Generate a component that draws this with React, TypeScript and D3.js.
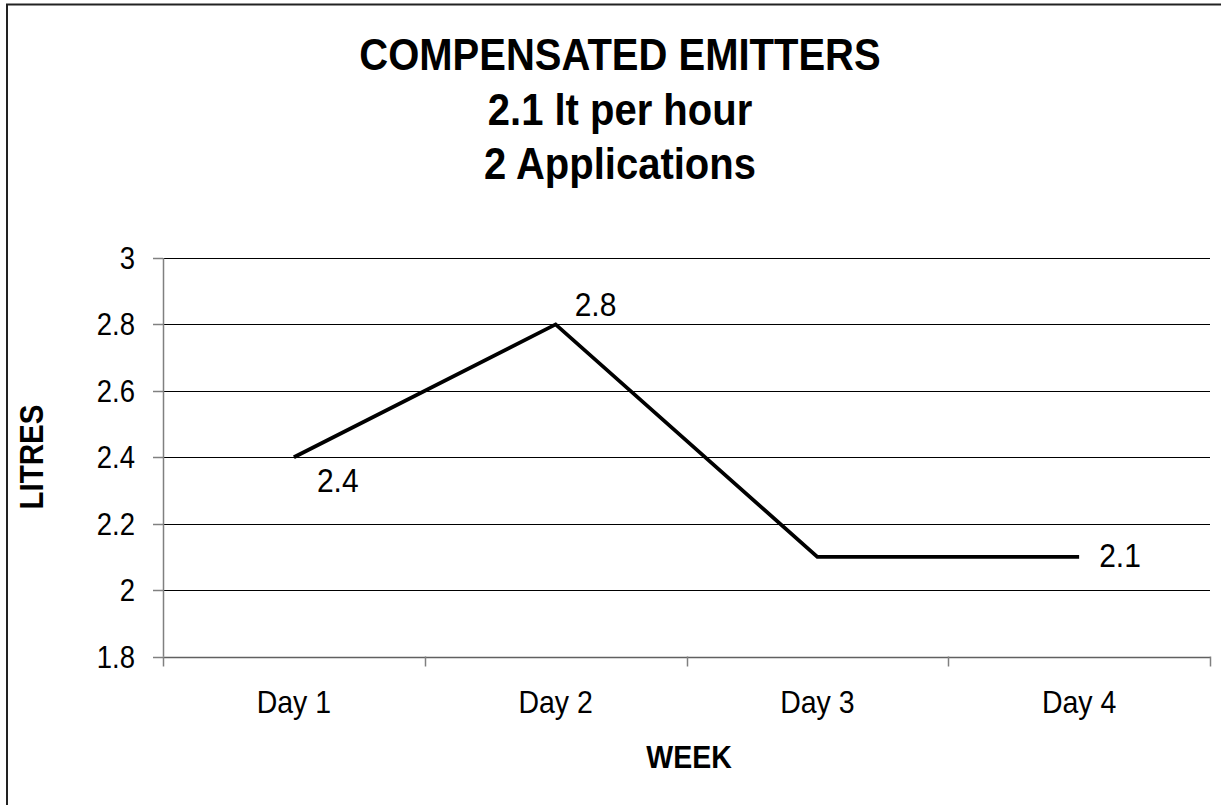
import React from "react";
import * as d3 from "d3";

const titleLines = ["COMPENSATED EMITTERS", "2.1 lt per hour", "2 Applications"];
const categories = ["Day 1", "Day 2", "Day 3", "Day 4"];
const values = [2.4, 2.8, 2.1, 2.1];
const labelPlacement = ["below", "above", "none", "right"];
const yTicks = [1.8, 2, 2.2, 2.4, 2.6, 2.8, 3];
const xTitle = "WEEK";
const yTitle = "LITRES";

const W = 1221;
const H = 805;
const plot = { left: 163, right: 1210, top: 258, bottom: 656.5 };
const SY = 1.12;
const FONT = "Arial, 'Liberation Sans', sans-serif";

function T({ x, y, size, bold, anchor, rotate, children }: any) {
  const t = rotate
    ? `translate(${x},${y}) scale(${SY},1) rotate(${rotate})`
    : `translate(${x},${y}) scale(1,${SY})`;
  return (
    <text
      transform={t}
      fontFamily={FONT}
      fontSize={size}
      fontWeight={bold ? "bold" : "normal"}
      textAnchor={anchor || "start"}
      fill="#000"
    >
      {children}
    </text>
  );
}

export default function App() {
  const x = d3
    .scaleBand<string>()
    .domain(categories)
    .range([plot.left, plot.right])
    .paddingInner(0)
    .paddingOuter(0);
  const y = d3.scaleLinear().domain([1.8, 3]).range([plot.bottom, plot.top]);
  const cx = (c: string) => (x(c) as number) + x.bandwidth() / 2;

  const line = d3
    .line<number>()
    .x((_, i) => cx(categories[i]))
    .y((v) => y(v));

  const boundaries = [...categories.map((c) => x(c) as number), plot.right];
  const offsets: Record<string, [number, number]> = {
    below: [23, 35],
    above: [19, -8],
    right: [20, 10],
  };

  return (
    <svg
      width={W}
      height={H}
      style={{ position: "absolute", left: 0, top: 0, background: "#fff" }}
    >
      <rect x={0} y={0} width={W} height={H} fill="#fff" />
      <rect x={7} y={4.5} width={W + 20} height={H + 20} fill="none" stroke="#222" strokeWidth={2} />

      {titleLines.map((t, i) => (
        <T key={t} x={620} y={70 + i * 54.5} size={40} bold anchor="middle">
          {t}
        </T>
      ))}

      {yTicks
        .filter((v) => v > 1.8)
        .map((v) => (
          <line
            key={v}
            x1={plot.left}
            x2={plot.right}
            y1={Math.round(y(v)) + 0.5}
            y2={Math.round(y(v)) + 0.5}
            stroke="#000"
            strokeWidth={1}
          />
        ))}

      <line x1={plot.left + 0.5} x2={plot.left + 0.5} y1={plot.top} y2={plot.bottom} stroke="#808080" strokeWidth={1.5} />
      {yTicks.map((v) => (
        <g key={v}>
          <line
            x1={plot.left - 10}
            x2={plot.left}
            y1={Math.round(y(v)) + 0.5}
            y2={Math.round(y(v)) + 0.5}
            stroke="#808080"
            strokeWidth={1.5}
          />
          <T x={135} y={y(v) + 11} size={27.5} anchor="end">
            {d3.format("")(v)}
          </T>
        </g>
      ))}

      <line
        x1={plot.left}
        x2={plot.right}
        y1={Math.round(plot.bottom) + 0.5}
        y2={Math.round(plot.bottom) + 0.5}
        stroke="#606060"
        strokeWidth={1.5}
      />
      {boundaries.map((b, i) => (
        <line
          key={i}
          x1={Math.round(b) + 0.5}
          x2={Math.round(b) + 0.5}
          y1={plot.bottom}
          y2={plot.bottom + 10}
          stroke="#808080"
          strokeWidth={1.5}
        />
      ))}
      {categories.map((c) => (
        <T key={c} x={cx(c)} y={713} size={28.5} anchor="middle">
          {c}
        </T>
      ))}

      <T x={689} y={768} size={28.5} bold anchor="middle">
        {xTitle}
      </T>
      <T x={43} y={457} size={29.5} bold anchor="middle" rotate={-90}>
        {yTitle}
      </T>

      <path d={line(values) || ""} fill="none" stroke="#000" strokeWidth={3.8} strokeLinejoin="miter" />

      {values.map((v, i) => {
        const p = labelPlacement[i];
        if (p === "none") return null;
        const [dx, dy] = offsets[p];
        return (
          <T key={i} x={cx(categories[i]) + dx} y={y(v) + dy} size={30}>
            {String(v)}
          </T>
        );
      })}
    </svg>
  );
}
